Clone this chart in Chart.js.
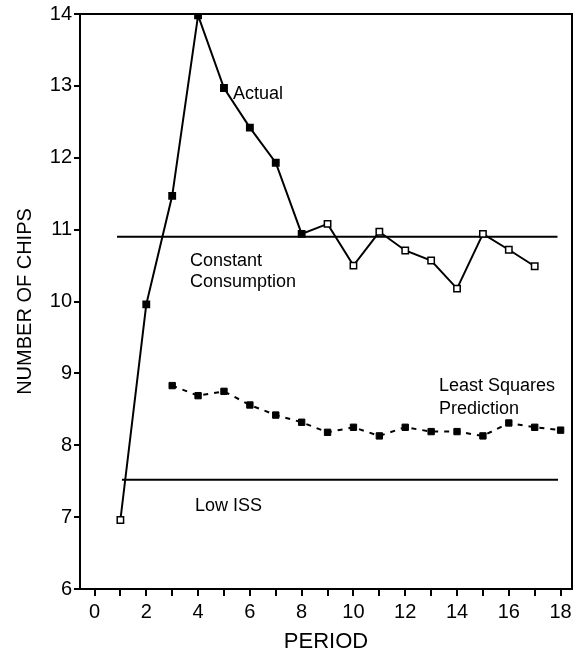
<!DOCTYPE html>
<html>
<head>
<meta charset="utf-8">
<script src="https://cdn.jsdelivr.net/npm/chart.js@4/dist/chart.umd.min.js"></script>
<style>
  html, body { margin: 0; padding: 0; background: #fff; }
  #wrap { width: 581px; height: 660px; position: relative; }
</style>
</head>
<body>
<div id="wrap"><canvas id="c" width="581" height="660"></canvas></div>
<script>
// ---- data ----
const periods = [1, 2, 3, 4, 5, 6, 7, 8, 9, 10, 11, 12, 13, 14, 15, 16, 17];
const actual = [6.96, 9.96, 11.47, 13.98, 12.97, 12.42, 11.93, 10.94, 11.08, 10.5, 10.97, 10.71, 10.57, 10.18, 10.94, 10.72, 10.49];
const lsPeriods = [3, 4, 5, 6, 7, 8, 9, 10, 11, 12, 13, 14, 15, 16, 17, 18];
const leastSquares = [8.83, 8.69, 8.75, 8.56, 8.42, 8.32, 8.18, 8.25, 8.13, 8.25, 8.19, 8.19, 8.13, 8.31, 8.25, 8.21];
const constantConsumption = 10.9;
const constantRange = [0.87, 17.88];
const lowISS = 7.52;
const lowISSRange = [1.06, 17.9];
const xTickValues = [0,1,2,3,4,5,6,7,8,9,10,11,12,13,14,15,16,17,18];
const yTickValues = [6,7,8,9,10,11,12,13,14];
const xTitle = 'PERIOD';
const yTitle = 'NUMBER OF CHIPS';
const annotations = [
  { text: 'Actual', x: 5.35, y: 12.88 },
  { text: 'Constant', x: 3.69, y: 10.56 },
  { text: 'Consumption', x: 3.69, y: 10.27 },
  { text: 'Least Squares', x: 13.3, y: 8.82 },
  { text: 'Prediction', x: 13.3, y: 8.51 },
  { text: 'Low ISS', x: 3.88, y: 7.15 }
];
const filledActual = [2, 3, 4, 5, 6, 7, 8];

// ---- build ----
const FONT = "'Liberation Sans', Arial, Helvetica, sans-serif";
const toPts = (xs, ys) => xs.map((x, i) => ({ x: x, y: ys[i] }));

const boxPlugin = {
  id: 'box',
  afterDraw(chart) {
    const { ctx, chartArea: a } = chart;
    ctx.save();
    ctx.strokeStyle = '#000';
    ctx.lineWidth = 2;
    ctx.beginPath();
    ctx.moveTo(a.left, a.top);
    ctx.lineTo(a.right, a.top);
    ctx.lineTo(a.right, a.bottom);
    ctx.stroke();
    ctx.restore();
  }
};

const textPlugin = {
  id: 'texts',
  afterDatasetsDraw(chart) {
    const { ctx, scales } = chart;
    ctx.save();
    ctx.fillStyle = '#000';
    ctx.font = '18px ' + FONT;
    ctx.textAlign = 'left';
    ctx.textBaseline = 'middle';
    annotations.forEach(a => {
      ctx.fillText(a.text, scales.x.getPixelForValue(a.x), scales.y.getPixelForValue(a.y));
    });
    ctx.restore();
  }
};

new Chart(document.getElementById('c'), {
  type: 'scatter',
  data: {
    datasets: [
      {
        label: 'Actual',
        data: toPts(periods, actual),
        showLine: true,
        borderColor: '#000',
        borderWidth: 2,
        pointStyle: 'rect',
        pointRadius: 4.5,
        pointBorderWidth: 1.5,
        pointBorderColor: '#000',
        pointBackgroundColor: ctx => filledActual.includes(periods[ctx.dataIndex]) ? '#000' : '#fff',
        tension: 0
      },
      {
        label: 'Least Squares Prediction',
        data: toPts(lsPeriods, leastSquares),
        showLine: true,
        borderColor: '#000',
        borderWidth: 2,
        borderDash: [5, 6],
        pointStyle: 'rect',
        pointRadius: 4.5,
        pointBorderWidth: 1,
        pointBorderColor: '#000',
        pointBackgroundColor: '#000',
        tension: 0
      },
      {
        label: 'Constant Consumption',
        data: toPts(constantRange, [constantConsumption, constantConsumption]),
        showLine: true,
        borderColor: '#000',
        borderWidth: 2,
        pointRadius: 0
      },
      {
        label: 'Low ISS',
        data: toPts(lowISSRange, [lowISS, lowISS]),
        showLine: true,
        borderColor: '#000',
        borderWidth: 2,
        pointRadius: 0
      }
    ]
  },
  options: {
    responsive: false,
    animation: false,
    layout: { padding: { top: 14, right: 9, left: 0, bottom: 0 } },
    plugins: { legend: { display: false }, tooltip: { enabled: false } },
    scales: {
      x: {
        type: 'linear',
        min: -0.56,
        max: 18.44,
        afterBuildTicks: s => { s.ticks = xTickValues.map(v => ({ value: v })); },
        afterFit: s => { s.height = 71; },
        ticks: {
          color: '#000',
          font: { size: 20, family: FONT },
          padding: 4,
          maxRotation: 0,
          autoSkip: false,
          callback: v => (v % 2 === 0 ? String(v) : '')
        },
        grid: { drawOnChartArea: false, drawTicks: true, tickLength: 7, color: '#000', lineWidth: 2 },
        border: { display: true, color: '#000', width: 2 },
        title: { display: true, text: xTitle, color: '#000', font: { size: 22, family: FONT }, padding: { top: 0, bottom: 5 } }
      },
      y: {
        type: 'linear',
        min: 6,
        max: 14,
        afterBuildTicks: s => { s.ticks = yTickValues.map(v => ({ value: v })); },
        afterFit: s => { s.width = 80; },
        ticks: {
          color: '#000',
          font: { size: 20, family: FONT },
          padding: 2,
          autoSkip: false,
          callback: v => String(v)
        },
        grid: { drawOnChartArea: false, drawTicks: true, tickLength: 6, color: '#000', lineWidth: 2 },
        border: { display: true, color: '#000', width: 2 },
        title: { display: true, text: yTitle, color: '#000', font: { size: 20, family: FONT }, padding: { top: 13, bottom: 0 } }
      }
    }
  },
  plugins: [boxPlugin, textPlugin]
});
</script>
</body>
</html>
